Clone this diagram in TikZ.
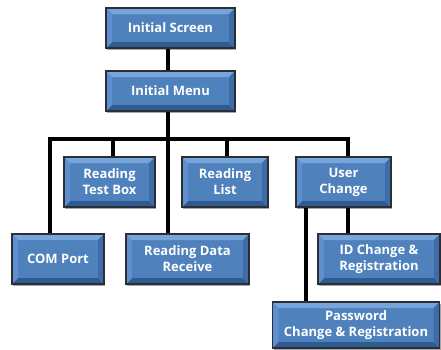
\documentclass[tikz,border=0pt]{standalone}
\usepackage{fontspec}
\setmainfont{Open Sans}
\usetikzlibrary{shadows}
\definecolor{boxblue}{HTML}{4F81BD}
\definecolor{bevtop}{HTML}{78A4DC}
\definecolor{bevleft}{HTML}{5F8FCF}
\definecolor{bevbot}{HTML}{2F5B92}
\definecolor{bevright}{HTML}{3D6CA8}
\definecolor{boxedge}{HTML}{2A2F36}
\tikzset{
  boxnode/.style={draw=boxedge, line width=1.2pt, fill=boxblue, text=white,
    font=\bfseries\fontsize{13}{16}\selectfont, align=center, inner sep=0pt,
    drop shadow={shadow xshift=1pt, shadow yshift=-1.5pt, opacity=0.35, fill=black},
    path picture={
      \coordinate (nw) at (path picture bounding box.north west);
      \coordinate (ne) at (path picture bounding box.north east);
      \coordinate (sw) at (path picture bounding box.south west);
      \coordinate (se) at (path picture bounding box.south east);
      \fill[bevtop] (nw) -- (ne) -- ([shift={(-6pt,-6pt)}]ne) -- ([shift={(6pt,-6pt)}]nw) -- cycle;
      \fill[bevbot] (sw) -- (se) -- ([shift={(-6pt,6pt)}]se) -- ([shift={(6pt,6pt)}]sw) -- cycle;
      \fill[bevleft] (nw) -- ([shift={(6pt,-6pt)}]nw) -- ([shift={(6pt,6pt)}]sw) -- (sw) -- cycle;
      \fill[bevright] (ne) -- ([shift={(-6pt,-6pt)}]ne) -- ([shift={(-6pt,6pt)}]se) -- (se) -- cycle;
    }},
  link/.style={line width=4pt, black}
}
\begin{document}
\begin{tikzpicture}[x=1pt, y=-1pt]
\useasboundingbox (0,0) rectangle (441,349);
\coordinate (busL) at (50,139);
\coordinate (busC) at (168,139);
\coordinate (busR) at (348,139);
\coordinate (tRTB) at (113,139);
\coordinate (tRL) at (227,139);
\coordinate (ucL) at (306,207);
\coordinate (ucR) at (348,207);

\node[boxnode, minimum width=129pt, minimum height=40pt] (scr) at (170.5,28) {\raisebox{-1pt}{Initial Screen}};
\node[boxnode, minimum width=129pt, minimum height=40pt] (menu) at (170.5,91) {\raisebox{-1pt}{Initial Menu}};
\node[boxnode, minimum width=91pt, minimum height=50pt] (rtb) at (109.5,182) {Reading\\Test Box};
\node[boxnode, minimum width=86pt, minimum height=50pt] (rl) at (225,182) {Reading\\List};
\node[boxnode, minimum width=95pt, minimum height=50pt] (uc) at (343.5,182) {User\\Change};
\node[boxnode, minimum width=92pt, minimum height=50pt] (com) at (58,259) {COM Port};
\node[boxnode, minimum width=123pt, minimum height=50pt] (rdr) at (187.5,259) {Reading Data\\Receive};
\node[boxnode, minimum width=122pt, minimum height=50pt] (id) at (379,259) {ID Change \&\\Registration};
\node[boxnode, minimum width=167pt, minimum height=46pt] (pw) at (356,325) {Password\\Change \& Registration};

\draw[link] (busC |- scr.south) -- (busC |- menu.north);
\draw[link] (busC |- menu.south) -- (busC |- rdr.north);
\draw[link, line cap=rect] (busL) -- (busR);
\draw[link] ([yshift=-2pt]busL) -- (busL |- com.north);
\draw[link] ([yshift=-2pt]busR) -- (busR |- uc.north);
\draw[link] (tRTB) -- (tRTB |- rtb.north);
\draw[link] (tRL) -- (tRL |- rl.north);
\draw[link] (ucL |- uc.south) -- (ucL |- pw.north);
\draw[link] (ucR |- uc.south) -- (ucR |- id.north);
\end{tikzpicture}
\end{document}
